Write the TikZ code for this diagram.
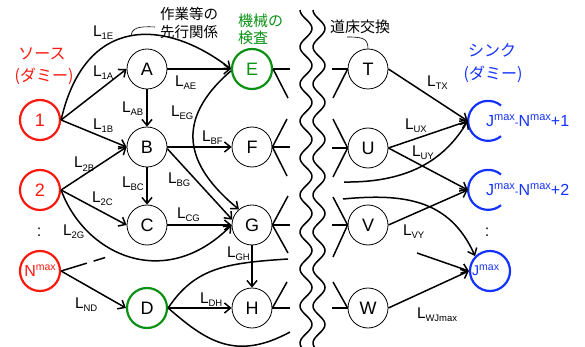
\documentclass[tikz,border=0pt]{standalone}
\usepackage{fontspec}
\setmainfont{Liberation Sans}
\newfontfamily\jp{Noto Sans CJK JP}
\usetikzlibrary{arrows.meta}
\definecolor{myred}{RGB}{250,25,15}
\definecolor{myblue}{RGB}{20,50,255}
\definecolor{mygreen}{RGB}{10,145,20}
\newcommand{\lab}[1]{L\kern-0.3pt\raisebox{-3pt}{\fontsize{9.5}{9.5}\selectfont #1}}
\newcommand{\supmax}[2]{\raisebox{#2}{\fontsize{#1}{#1}\selectfont max}}
\begin{document}
\begin{tikzpicture}[x=1pt,y=-1pt,
  nd/.style={circle,draw,line width=0.8pt,minimum size=40pt,inner sep=0pt,font=\fontsize{18}{18}\selectfont},
  srcnd/.style={nd,draw=myred,text=myred,line width=2.2pt},
  chk/.style={nd,draw=mygreen,line width=2.2pt},
  snk/.style={circle,minimum size=40pt,inner sep=0pt},
  arr/.style={line width=1.5pt,-{Straight Barb[length=6pt,width=10pt]}},
  ln/.style={line width=1.5pt},
  lbl/.style={anchor=base west,inner sep=0pt,font=\fontsize{15.5}{15.5}\selectfont},
  jpa/.style={inner sep=0pt,font=\jp\fontsize{16}{16}\selectfont},
  jpb/.style={inner sep=0pt,font=\jp\fontsize{15}{15}\selectfont},
  jpc/.style={inner sep=0pt,font=\jp\fontsize{14.5}{14.5}\selectfont},
  lead/.style={line width=0.6pt},
  wave/.style={line width=1.5pt},
  colon/.style={inner sep=0pt,font=\fontsize{16}{16}\selectfont},
]
\useasboundingbox (0,0) rectangle (585,347);

% wavy cut lines
\draw[wave] plot[domain=10:347,samples=200,smooth] ({306-6*cos(9.7297*(\x-10))},\x);
\draw[wave] plot[domain=10:347,samples=200,smooth] ({319-6*cos(9.7297*(\x-10))},\x);

% source nodes
\node[srcnd] (n1) at (40,120) {1};
\node[srcnd] (n2) at (40,190) {2};
\node[srcnd,font=\fontsize{16}{16}\selectfont] (nN) at (40,271) {N\supmax{10.5}{6pt}};
\node[colon] (dl) at (39,232) {:};

% job nodes
\node[nd] (A) at (147,69) {A};
\node[nd] (B) at (147,147) {B};
\node[nd] (C) at (147,225) {C};
\node[chk] (D) at (147,308) {D};
\node[chk,text=mygreen] (E) at (252,69) {E};
\node[nd] (F) at (252,147) {F};
\node[nd] (G) at (252,225) {G};
\node[nd] (H) at (252,308) {H};
\node[nd] (T) at (368,69) {T};
\node[nd] (U) at (368,148) {U};
\node[nd] (V) at (368,225) {V};
\node[nd] (W) at (368,308) {W};

% sink nodes
\node[snk] (X) at (488,121) {};
\node[snk] (Y) at (488,190) {};
\node[snk,draw=myblue,line width=2.2pt] (Jm) at (490,271) {};
\draw[myblue,line width=2.2pt] (X.50) arc[start angle=50,end angle=310,radius=20pt];
\draw[myblue,line width=2.2pt] (Y.50) arc[start angle=50,end angle=310,radius=20pt];
\node[anchor=base west,inner sep=0pt,text=myblue,font=\fontsize{16}{16}\selectfont] (Xt) at (486,127)
  {J\supmax{11}{6pt}{\fontsize{11}{11}\selectfont -}N\supmax{11}{6pt}+1};
\node[anchor=base west,inner sep=0pt,text=myblue,font=\fontsize{16}{16}\selectfont] (Yt) at (486,196)
  {J\supmax{11}{6pt}{\fontsize{11}{11}\selectfont -}N\supmax{11}{6pt}+2};
\node[anchor=base west,inner sep=0pt,text=myblue,font=\fontsize{14}{14}\selectfont] (Jt) at (472,275)
  {J\supmax{10.5}{5pt}};
\node[colon] (dr) at (487,232) {:};

% texts
\node[jpa,text=myred] (so1) at (42,54) {ソース};
\node[jpa,text=myred] (so2) at (44,76) {(ダミー)};
\node[jpa,text=myblue] (si1) at (492,50) {シンク};
\node[jpa,text=myblue] (si2) at (493,74) {(ダミー)};
\node[jpb,text=mygreen,anchor=west] (k1) at (238,21) {機械の};
\node[jpb,text=mygreen,anchor=west] (k2) at (238,38) {検査};
\node[jpc] (p1) at (189,14) {作業等の};
\node[jpc] (p2) at (189,32) {先行関係};
\node[jpb] (r0) at (360,27) {道床交換};

% leaders
\coordinate (q1) at (155,27);
\coordinate (q2) at (131,36);
\draw[lead] (q1) .. controls (138,26) and (132,28) .. (q2);
\coordinate (r1) at (347,37);
\draw[lead] (r1) .. controls (362,37) and (368,38) .. (T.north);

% left edges
\draw[arr] (n1.east) .. controls (85,15) and (165,18) .. (E.west);
\draw[arr] (n1.east) -- (A.west);
\draw[arr] (n1.east) -- (B.west);
\draw[arr] (n2.east) -- (B.west);
\draw[arr] (n2.east) -- (C.west);
\draw[arr] (n2.east) .. controls (85,255) and (165,292) .. (G.west);
\coordinate (nd1) at (107,257);
\draw[ln,dash pattern=on 27pt off 7pt on 12pt off 60pt] (nN.east) -- (nd1);
\draw[arr] (nN.east) -- (D.west);
\draw[arr] (A) -- (E);
\draw[arr] (A) -- (B);
\draw[arr] (E.185) .. controls (174,120) and (185,165) .. (G.130);
\draw[arr] (B) -- (F);
\draw[arr] (B) -- (C);
\draw[arr] (B.-5) -- (G.165);
\draw[arr] (C) -- (G);
\draw[arr] (G) -- (H);
\draw[arr] (D) -- (H);
\coordinate (dU) at (288,259);
\coordinate (dD) at (290,332);
\draw[ln] (D.east) .. controls (195,268) and (225,263) .. (dU);
\draw[ln] (D.east) .. controls (205,340) and (235,362) .. (dD);

% stubs left of cut
\coordinate (e1) at (290,69);  \coordinate (e2) at (288,98);
\coordinate (f1) at (287,119); \coordinate (f2) at (290,147); \coordinate (f3) at (287,176);
\coordinate (g1) at (288,196); \coordinate (g2) at (290,225); \coordinate (g3) at (288,253);
\coordinate (h1) at (287,282); \coordinate (h2) at (290,308);
\draw[ln] (E.east) -- (e1); \draw[ln] (E.east) -- (e2);
\draw[ln] (F.east) -- (f1); \draw[ln] (F.east) -- (f2); \draw[ln] (F.east) -- (f3);
\draw[ln] (G.east) -- (g1); \draw[ln] (G.east) -- (g2); \draw[ln] (G.east) -- (g3);
\draw[ln] (H.east) -- (h1); \draw[ln] (H.east) -- (h2);

% stubs right of cut
\coordinate (t1) at (332,69);  \coordinate (t2) at (333,98);
\coordinate (u1) at (333,119); \coordinate (u2) at (332,148); \coordinate (u3) at (333,177);
\coordinate (v1) at (333,197); \coordinate (v2) at (332,225); \coordinate (v3) at (333,257);
\coordinate (w1) at (333,282); \coordinate (w2) at (332,308);
\draw[ln] (t1) -- (T.west); \draw[ln] (t2) -- (T.west);
\draw[ln] (u1) -- (U.west); \draw[ln] (u2) -- (U.west); \draw[ln] (u3) -- (U.west);
\draw[ln] (v1) -- (V.west); \draw[ln] (v2) -- (V.west); \draw[ln] (v3) -- (V.west);
\draw[ln] (w1) -- (W.west); \draw[ln] (w2) -- (W.west);

% right edges
\draw[arr] (T.east) -- (X.west);
\draw[arr] (U.east) -- (X.west);
\draw[arr] (U.east) -- (Y.west);
\draw[arr] (V.east) -- (Y.west);
\draw[arr] (W.east) -- (Jm.west);
\coordinate (c1) at (344,182);
\coordinate (c2) at (343,199);
\coordinate (c3) at (417,253);
\draw[arr] (c1) .. controls (420,183) and (450,150) .. (X.west);
\draw[arr] (c2) .. controls (405,193) and (450,200) .. (Jm.135);
\draw[arr] (c3) -- (Jm.west);

% edge labels
\node[lbl] (l1E) at (93,37) {\lab{1E}};
\node[lbl] (l1A) at (93,77) {\lab{1A}};
\node[lbl] (l1B) at (93,130) {\lab{1B}};
\node[lbl] (l2B) at (74,168) {\lab{2B}};
\node[lbl] (lAB) at (122,113) {\lab{AB}};
\node[lbl] (lAE) at (175,87) {\lab{AE}};
\node[lbl] (lEG) at (171,117) {\lab{EG}};
\node[lbl] (lBF) at (202,142) {\lab{BF}};
\node[lbl] (lBC) at (122,187) {\lab{BC}};
\node[lbl] (lBG) at (168,183) {\lab{BG}};
\node[lbl] (l2C) at (92,202) {\lab{2C}};
\node[lbl] (l2G) at (63,235) {\lab{2G}};
\node[lbl] (lCG) at (177,218) {\lab{CG}};
\node[lbl] (lGH) at (227,257) {\lab{GH}};
\node[lbl] (lND) at (75,308) {\lab{ND}};
\node[lbl] (lDH) at (200,303) {\lab{DH}};
\node[lbl] (lTX) at (427,87) {\lab{TX}};
\node[lbl] (lUX) at (405,130) {\lab{UX}};
\node[lbl] (lUY) at (412,157) {\lab{UY}};
\node[lbl] (lVY) at (403,235) {\lab{VY}};
\node[lbl] (lWJ) at (417,318) {\lab{WJmax}};
\end{tikzpicture}
\end{document}
